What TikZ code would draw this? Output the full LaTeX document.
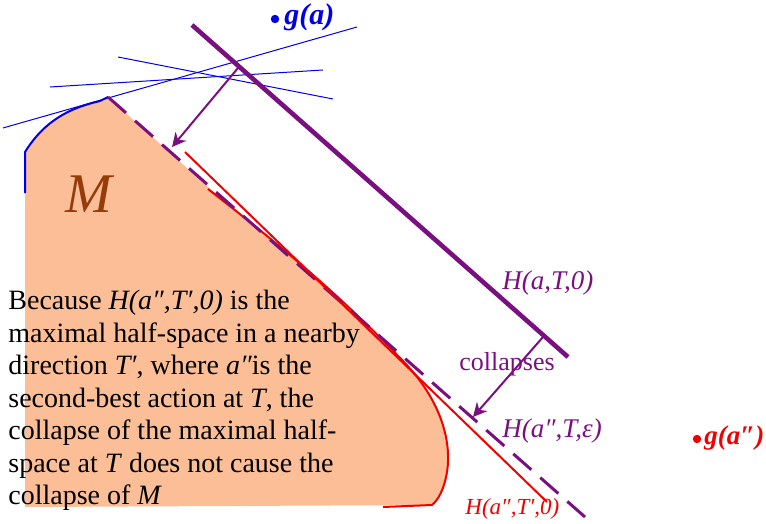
\documentclass[tikz,border=0pt]{standalone}
\usepackage{fontspec}
\setmainfont{Liberation Serif}
\usepackage{tikz}
\usepackage{xcolor}
\usetikzlibrary{arrows.meta,positioning,calc}

\definecolor{hpurple}{RGB}{122,16,128}
\definecolor{mfill}{RGB}{251,190,150}
\definecolor{mbrown}{RGB}{150,60,10}
\definecolor{gblue}{RGB}{0,0,230}
\definecolor{hred}{RGB}{240,0,0}

\tikzset{
  halfspace/.style={hpurple, line width=2.3pt},
  nearspace/.style={hpurple, line width=1.5pt, dash pattern=on 12pt off 6pt},
  redline/.style={hred, line width=1pt},
  tangent/.style={gblue, line width=0.5pt},
  collapse/.style={hpurple, line width=1pt, -{Stealth[length=7pt,width=7pt]}},
  hlabel/.style={font=\fontsize{13.5}{15}\selectfont\itshape, inner sep=0pt, anchor=west},
  glabel/.style={font=\fontsize{15}{17}\selectfont\bfseries\itshape, inner sep=0pt, anchor=west},
}

\begin{document}
\begin{tikzpicture}[x=0.5pt,y=-0.5pt]
            \useasboundingbox (0,0) rectangle (766,524);
            % the set M
            \fill[mfill] (25,152) .. controls (45,120) and (70,108) .. (100,101) -- (108,97) -- (208,187)
                .. controls (280,245) and (340,295) .. (405,363)
                .. controls (440,400) and (452,440) .. (447,472)
                .. controls (444,490) and (438,500) .. (432,505) -- (25,507) -- cycle;
            \draw[gblue, line width=1pt] (25,193) -- (25,152) .. controls (45,120) and (70,108) .. (100,101) -- (108,97);
            \draw[redline] (208,189) .. controls (280,245) and (340,295) .. (405,363)
                .. controls (440,400) and (452,440) .. (447,472)
                .. controls (444,490) and (438,500) .. (432,505) -- (383,507);

            % tangent lines at g(a)
            \draw[tangent] (3,128) -- (357,27);
            \draw[tangent] (50,87) -- (323,70);
            \draw[tangent] (118,57) -- (333,99);

            % half-spaces
            \coordinate (hat1) at (192,25);
            \coordinate (hat2) at (568,357);
            \coordinate (hep1) at (108,97);
            \coordinate (hep2) at (585,517);
            \coordinate (hpr1) at (185,152);
            \coordinate (hpr2) at (547,502);
            \draw[halfspace] (hat1) -- (hat2);
            \draw[nearspace] (hep1) -- (hep2);
            \draw[redline] (hpr1) -- (hpr2);

            % points g(a) and g(a'')
            \fill[gblue] (275,19) coordinate (ga) circle[radius=2.1pt];
            \node[glabel, gblue] (galabel) at (284,17) {g(a)};
            \fill[hred] (697,439) coordinate (gapp) circle[radius=2.1pt];
            \node[glabel, hred, font=\fontsize{13.5}{15}\selectfont\bfseries\itshape] (gapplabel) at (704,438) {g(a″)};

            % labels
            \node[font=\fontsize{28}{30}\selectfont\itshape, mbrown] (mlabel) at (89,194) {M};
            \node[hlabel, hpurple] (hatlabel) at (502,283) {H(a,T,0)};
            \node[hlabel, hpurple] (heplabel) at (502,431) {H(a″,T,ε)};
            \node[hlabel, hred, font=\fontsize{11.5}{13}\selectfont\itshape] (hprlabel) at (465,509) {H(a″,T′,0)};
            \node[hpurple, font=\fontsize{13}{15}\selectfont] (collapselabel) at (507,364) {collapses};

            \node[anchor=north west, align=left, inner sep=0pt, font=\fontsize{14}{16.25}\selectfont] (explain) at (8,290)
                {Because \textit{H(a″,T′,0)} is the\\
                 maximal half-space in a nearby\\
                 direction \textit{T′}, where \textit{a″}is the\\
                 second-best action at \textit{T}, the\\
                 collapse of the maximal half-\\
                 space at \textit{T} does not cause the\\
                 collapse of \textit{M}};

            % collapse arrows
            \coordinate (fromA) at (238,68);
            \coordinate (toA) at (172,147);
            \coordinate (fromB) at (543,337);
            \coordinate (toB) at (473,417);
            \draw[collapse] (fromA) -- (toA);
            \draw[collapse] (fromB) -- (toB);
        \end{tikzpicture}
\end{document}
